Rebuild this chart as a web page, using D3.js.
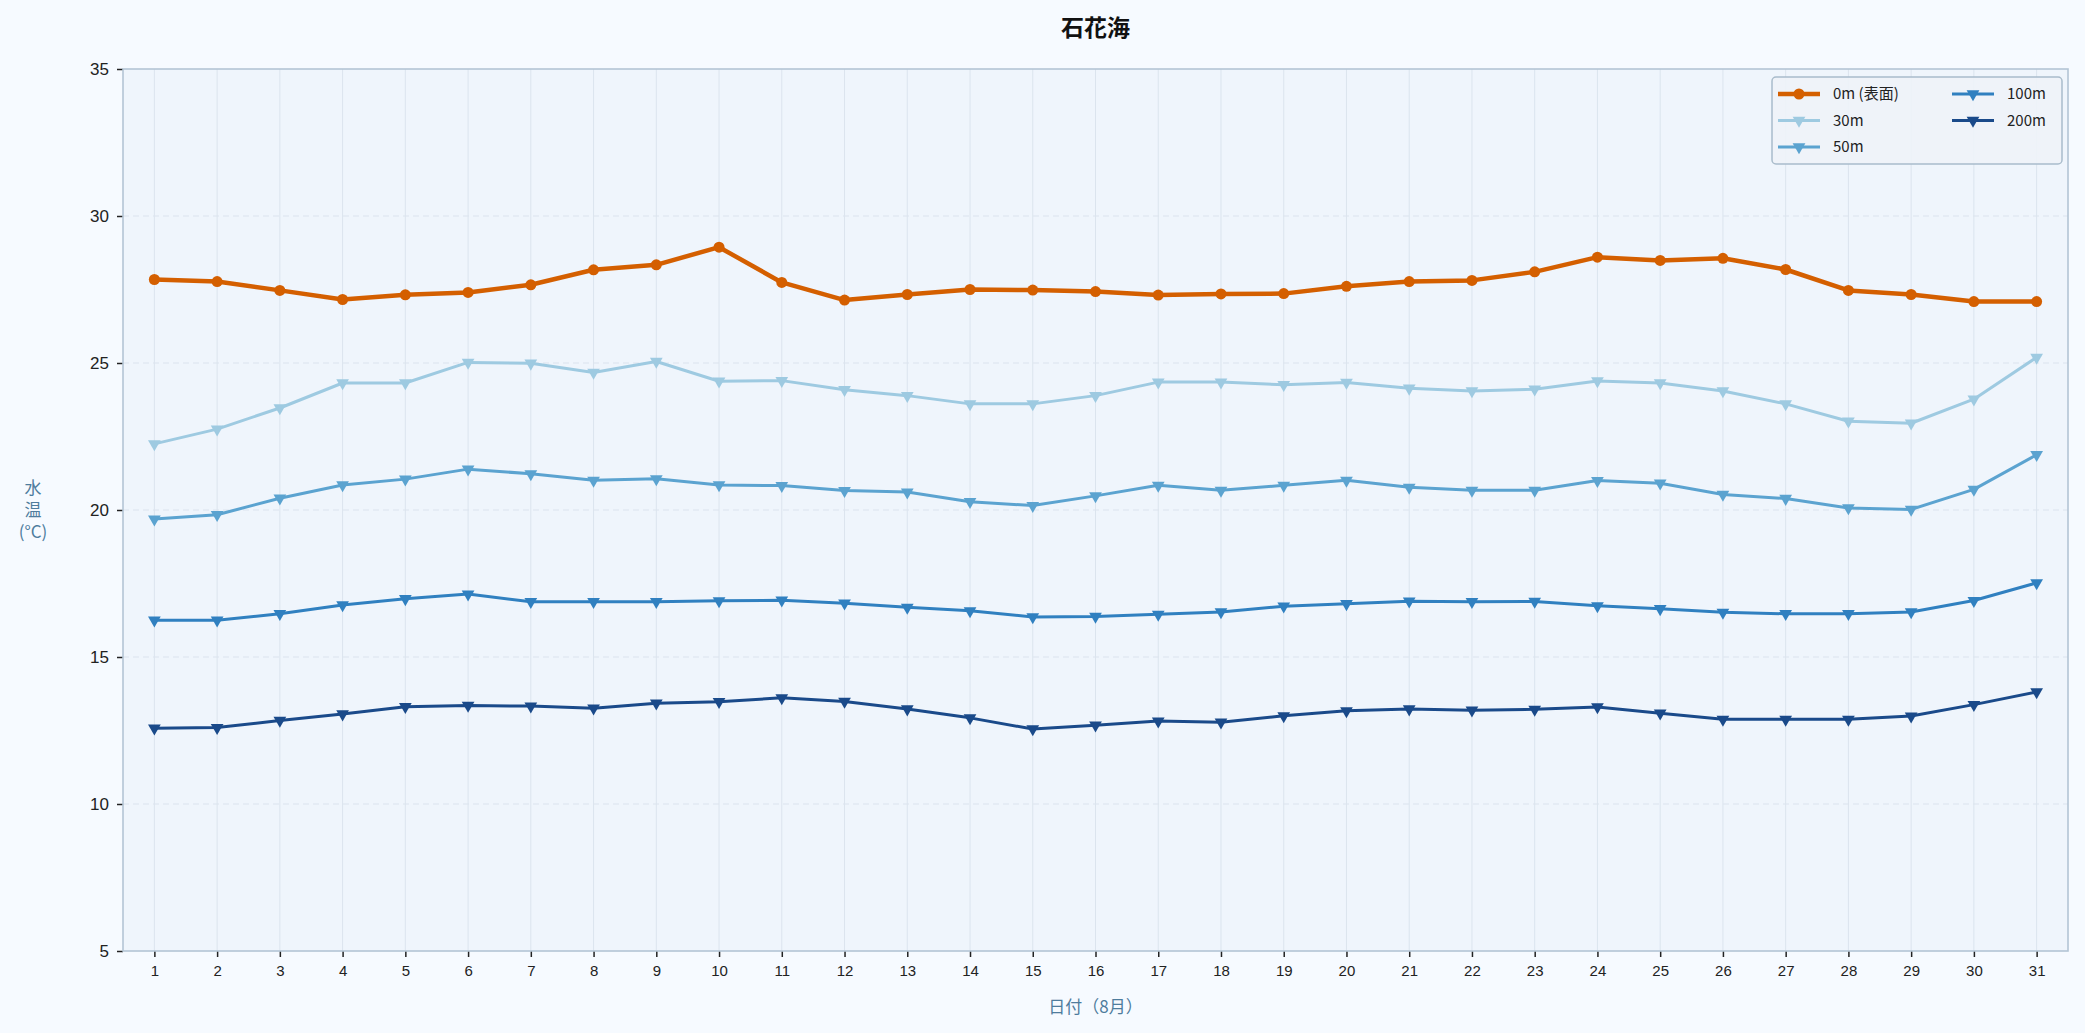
<!DOCTYPE html>
<html>
<head>
<meta charset="utf-8">
<script src="https://cdn.jsdelivr.net/npm/d3@7"></script>
<style>
  html, body { margin: 0; padding: 0; background: #f6faff; }
  svg { display: block; font-family: "Noto Sans CJK JP", "Noto Sans", sans-serif; }
</style>
</head>
<body>
<svg id="chart" width="2085" height="1033"></svg>
<script>
const days = d3.range(1, 32);
const yTicks = [5, 10, 15, 20, 25, 30, 35];

const depth0 = [27.84, 27.77, 27.47, 27.16, 27.32, 27.40, 27.66, 28.17, 28.34, 28.94, 27.74,
  27.14, 27.33, 27.50, 27.48, 27.43, 27.31, 27.35, 27.36, 27.61, 27.77, 27.81,
  28.10, 28.60, 28.49, 28.56, 28.18, 27.47, 27.33, 27.09, 27.09];
const depth30 = [22.25, 22.75, 23.47, 24.32, 24.32, 25.02, 24.99, 24.68, 25.05, 24.38, 24.40,
  24.09, 23.89, 23.61, 23.61, 23.89, 24.35, 24.35, 24.26, 24.34, 24.14, 24.05,
  24.11, 24.39, 24.32, 24.05, 23.61, 23.02, 22.95, 23.77, 25.19];
const depth50 = [19.69, 19.84, 20.40, 20.85, 21.05, 21.39, 21.23, 21.01, 21.06, 20.85, 20.83,
  20.66, 20.61, 20.28, 20.15, 20.48, 20.84, 20.67, 20.84, 21.01, 20.77, 20.67,
  20.67, 21.00, 20.91, 20.53, 20.39, 20.07, 20.02, 20.70, 21.88];
const depth100 = [16.25, 16.25, 16.47, 16.77, 16.98, 17.14, 16.88, 16.88, 16.88, 16.91, 16.93,
  16.83, 16.69, 16.57, 16.36, 16.38, 16.45, 16.53, 16.73, 16.81, 16.90, 16.88,
  16.89, 16.74, 16.64, 16.52, 16.47, 16.47, 16.53, 16.92, 17.52];
const depth200 = [12.58, 12.60, 12.84, 13.06, 13.31, 13.35, 13.33, 13.26, 13.43, 13.48, 13.61,
  13.49, 13.23, 12.93, 12.55, 12.68, 12.82, 12.78, 13.00, 13.17, 13.23, 13.19,
  13.22, 13.30, 13.09, 12.88, 12.88, 12.88, 12.99, 13.38, 13.81];

const seriesNames = ["0m (表面)", "30m", "50m", "100m", "200m"];
const seriesValues = [depth0, depth30, depth50, depth100, depth200];
const seriesColors = ["#d45f00", "#9ecae1", "#5ba3d0", "#3080c0", "#1a4a8a"];

const width = 2085, height = 1033;
const margin = { top: 69, right: 17, bottom: 82, left: 123 };
const plotW = width - margin.left - margin.right;
const plotH = height - margin.top - margin.bottom;

const svgEl = d3.select("#chart");
svgEl.append("rect").attr("width", width).attr("height", height).attr("fill", "#f6faff");

const svg = svgEl.append("g").attr("transform", `translate(${margin.left},${margin.top})`);

const x = d3.scaleLinear().domain([0.5, 31.5]).range([0, plotW]);
const y = d3.scaleLinear().domain([5, 35]).range([plotH, 0]);

// plot background
svg.append("rect").attr("width", plotW).attr("height", plotH).attr("fill", "#eff5fc");

// grid
svg.append("g")
  .selectAll("line")
  .data(days)
  .join("line")
  .attr("x1", (d) => x(d)).attr("x2", (d) => x(d))
  .attr("y1", 0).attr("y2", plotH)
  .attr("stroke", "#dbe4ee").attr("stroke-width", 1);
svg.append("g")
  .selectAll("line")
  .data(yTicks.slice(1, -1))
  .join("line")
  .attr("x1", 0).attr("x2", plotW)
  .attr("y1", (d) => y(d)).attr("y2", (d) => y(d))
  .attr("stroke", "#dbe4ee").attr("stroke-width", 1.2)
  .attr("stroke-dasharray", "6,4");

// X axis
const xAxis = svg.append("g")
  .attr("transform", `translate(0,${plotH})`)
  .call(d3.axisBottom(x).tickValues(days).tickFormat(d3.format("d")).tickSize(6).tickPadding(8));
xAxis.select(".domain").remove();
xAxis.selectAll(".tick line").attr("stroke", "#222").attr("stroke-width", 1.5);
xAxis.selectAll("text").attr("font-size", 15).attr("fill", "#222");

// Y axis
const yAxis = svg.append("g")
  .call(d3.axisLeft(y).tickValues(yTicks).tickSize(6).tickPadding(8));
yAxis.select(".domain").remove();
yAxis.selectAll(".tick line").attr("stroke", "#222").attr("stroke-width", 1.5);
yAxis.selectAll("text").attr("font-size", 17).attr("fill", "#222");

// frame
svg.append("rect").attr("width", plotW).attr("height", plotH)
  .attr("fill", "none").attr("stroke", "#b3c5d5").attr("stroke-width", 1.6);

// Lines and markers
const line = d3.line().x((d, i) => x(days[i])).y((d) => y(d));
const tri = d3.symbol().type(d3.symbolTriangle).size(70);

seriesValues.forEach((vals, si) => {
  const g = svg.append("g");
  const isSurface = si === 0;
  g.append("path")
    .datum(vals)
    .attr("d", line)
    .attr("fill", "none")
    .attr("stroke", seriesColors[si])
    .attr("stroke-width", isSurface ? 4.5 : 3)
    .attr("stroke-linejoin", "round");
  if (isSurface) {
    g.selectAll("circle")
      .data(vals)
      .join("circle")
      .attr("cx", (d, i) => x(days[i]))
      .attr("cy", (d) => y(d))
      .attr("r", 5.5)
      .attr("fill", seriesColors[si]);
  } else {
    g.selectAll("path.m")
      .data(vals)
      .join("path")
      .attr("class", "m")
      .attr("d", tri)
      .attr("transform", (d, i) => `translate(${x(days[i])},${y(d)}) rotate(180)`)
      .attr("fill", seriesColors[si]);
  }
});

// Legend
const legend = svg.append("g").attr("transform", `translate(${plotW - 296},8)`);
legend.append("rect")
  .attr("width", 290).attr("height", 87).attr("rx", 4)
  .attr("fill", "#eef3f8").attr("fill-opacity", 0.9)
  .attr("stroke", "#a9bccb").attr("stroke-width", 1.5);
const legPos = [[0, 0], [0, 1], [0, 2], [1, 0], [1, 1]];
seriesNames.forEach((name, si) => {
  const [col, row] = legPos[si];
  const lg = legend.append("g").attr("transform", `translate(${6 + col * 174},${17 + row * 26.5})`);
  lg.append("line").attr("x1", 0).attr("x2", 42)
    .attr("stroke", seriesColors[si]).attr("stroke-width", si === 0 ? 4.5 : 3);
  if (si === 0) {
    lg.append("circle").attr("cx", 21).attr("r", 5.5).attr("fill", seriesColors[si]);
  } else {
    lg.append("path").attr("d", tri).attr("transform", "translate(21,0) rotate(180)").attr("fill", seriesColors[si]);
  }
  lg.append("text").attr("x", si === 0 ? 55 : (col === 1 ? 55 : 55)).attr("y", 0)
    .attr("dy", "0.35em").attr("font-size", 15).attr("fill", "#222").text(name);
});

// Title
svgEl.append("text")
  .attr("x", margin.left + plotW / 2).attr("y", 28)
  .attr("dy", "0.35em").attr("text-anchor", "middle")
  .attr("font-size", 23).attr("font-weight", "bold").attr("fill", "#111")
  .text("石花海");

// Axis labels
svgEl.append("text")
  .attr("x", margin.left + plotW / 2).attr("y", 1007)
  .attr("dy", "0.35em").attr("text-anchor", "middle")
  .attr("font-size", 17).attr("fill", "#4e7c9d")
  .text("日付（8月）");

const yl = svgEl.append("text")
  .attr("x", 33).attr("text-anchor", "middle")
  .attr("font-size", 17).attr("fill", "#4e7c9d");
["水", "温", "(°C)"].forEach((t, i) => {
  yl.append("tspan").attr("x", 33).attr("y", 488 + i * 22).attr("dy", "0.35em").text(t);
});
</script>
</body>
</html>
